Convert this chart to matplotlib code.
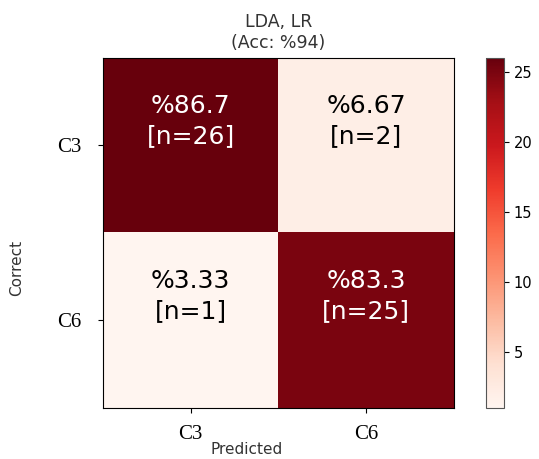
import matplotlib
matplotlib.use("Agg")
import matplotlib.pyplot as plt
import numpy as np

# confusion matrix data
classes = ["C3", "C6"]
counts = [[26, 2],
          [1, 25]]
percents = [["%86.7", "%6.67"],
            ["%3.33", "%83.3"]]
title = "LDA, LR\n(Acc: %94)"

cm = np.array(counts)

fig = plt.figure(figsize=(5.39, 4.59), dpi=100)
ax = fig.add_axes([0.191, 0.111, 0.651, 0.763])
cax = fig.add_axes([0.902, 0.111, 0.033, 0.763])

im = ax.imshow(cm, cmap="Reds", vmin=cm.min(), vmax=cm.max(), aspect="auto")
cb = fig.colorbar(im, cax=cax, ticks=[5, 10, 15, 20, 25])
cb.ax.tick_params(labelsize=10.5)
cb.outline.set_edgecolor("#555555")

for i in range(cm.shape[0]):
    for j in range(cm.shape[1]):
        color = "white" if cm[i, j] > cm.max() / 2 else "black"
        ax.text(j, i - 0.14, f"{percents[i][j]}\n[n={cm[i, j]}]",
                ha="center", va="center", color=color, fontsize=18,
                linespacing=1.3)

ax.set_xticks(range(len(classes)))
ax.set_yticks(range(len(classes)))
ax.set_xticklabels(classes, family="Liberation Serif", fontsize=15)
ax.set_yticklabels(classes, family="Liberation Serif", fontsize=15)
ax.tick_params(axis="x", pad=9)
ax.tick_params(axis="y", pad=12)
ax.set_xlabel("Predicted", fontsize=11, color="#333333")
ax.set_ylabel("Correct", fontsize=11, color="#333333")
# labels sit a bit off-centre in the original
ax.xaxis.set_label_coords(0.41, -0.098)
ax.yaxis.set_label_coords(-0.225, 0.40)
ax.set_title(title, fontsize=12.5, color="#333333", pad=7)

fig.savefig("out.png", dpi=100)
